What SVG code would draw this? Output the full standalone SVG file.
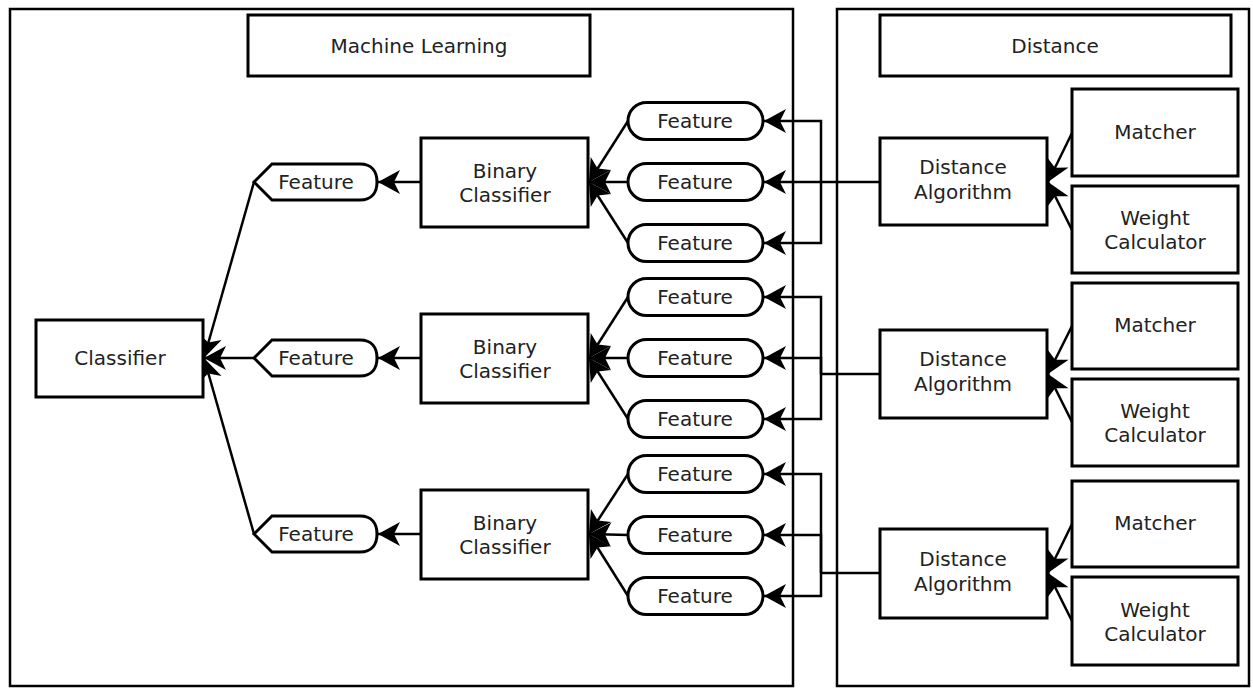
<svg xmlns="http://www.w3.org/2000/svg" width="1253" height="688" viewBox="0 0 1253 688">
<style>
.frame{fill:#fff;stroke:#000;stroke-width:2.5}
.box{fill:#fff;stroke:#000;stroke-width:3}
.t{font-family:"DejaVu Sans",sans-serif;font-size:20px;fill:#222;text-anchor:middle}
.c{fill:none;stroke:#000;stroke-width:2.5}
.a{marker-end:url(#arr)}
</style>
<defs>
<marker id="arr" markerUnits="userSpaceOnUse" markerWidth="28" markerHeight="28" viewBox="-24 -14 28 28" refX="0" refY="0" orient="auto">
<path d="M0,0 L-22,-12 L-16,0 L-22,12 Z" fill="#000"/>
</marker>
</defs>
<rect width="1253" height="688" fill="#fff"/>
<g id="frame-ml"><rect class="frame" x="10" y="9" width="783" height="677"/></g>
<g id="frame-dist"><rect class="frame" x="837" y="9" width="412" height="677"/></g>
<g id="title-ml"><rect class="box" x="248" y="15" width="342" height="61"/><text class="t" x="419" y="53">Machine Learning</text></g>
<g id="title-dist"><rect class="box" x="880" y="15" width="351" height="61"/><text class="t" x="1055" y="53">Distance</text></g>

<g id="connectors">
<path class="c a" d="M254,182 L204,358"/>
<path class="c a" d="M254,358 L204,358"/>
<path class="c a" d="M254,534 L204,358"/>
<path class="c a" d="M421,182 L378,182"/>
<path class="c a" d="M421,358 L378,358"/>
<path class="c a" d="M421,534 L378,534"/>
<path class="c a" d="M628,121 L589,182"/>
<path class="c a" d="M628,182 L589,182"/>
<path class="c a" d="M628,243 L589,182"/>
<path class="c a" d="M628,297 L589,358"/>
<path class="c a" d="M628,358 L589,358"/>
<path class="c a" d="M628,419 L589,358"/>
<path class="c a" d="M628,474 L589,534"/>
<path class="c a" d="M628,535 L589,534"/>
<path class="c a" d="M628,596 L589,534"/>
<path class="c a" d="M880,182 L764,182"/>
<path class="c a" d="M821,182 L821,121 L764,121"/>
<path class="c a" d="M821,182 L821,243 L764,243"/>
<path class="c" d="M880,374 L821,374"/>
<path class="c a" d="M821,374 L821,297 L764,297"/>
<path class="c a" d="M821,374 L821,358 L764,358"/>
<path class="c a" d="M821,374 L821,419 L764,419"/>
<path class="c" d="M880,573 L821,573"/>
<path class="c a" d="M821,573 L821,474 L764,474"/>
<path class="c a" d="M821,573 L821,535 L764,535"/>
<path class="c a" d="M821,573 L821,596 L764,596"/>
<path class="c a" d="M1072,133 L1048,182"/>
<path class="c a" d="M1072,230 L1048,182"/>
<path class="c a" d="M1072,326 L1048,374"/>
<path class="c a" d="M1072,422 L1048,374"/>
<path class="c a" d="M1072,524 L1048,573"/>
<path class="c a" d="M1072,621 L1048,573"/>
</g>

<g id="classifier"><rect class="box" x="36" y="320" width="167" height="77"/><text class="t" x="120" y="365">Classifier</text></g>

<g id="hex-1"><path class="box" d="M254,182 L272,164 L360,164 C372,164 377,172 377,182 C377,192 372,200 360,200 L272,200 Z"/><text class="t" x="316" y="189">Feature</text></g>
<g id="hex-2"><path class="box" d="M254,358 L272,340 L360,340 C372,340 377,348 377,358 C377,368 372,376 360,376 L272,376 Z"/><text class="t" x="316" y="365">Feature</text></g>
<g id="hex-3"><path class="box" d="M254,534 L272,516 L360,516 C372,516 377,524 377,534 C377,544 372,552 360,552 L272,552 Z"/><text class="t" x="316" y="541">Feature</text></g>

<g id="bc-1"><rect class="box" x="421" y="138" width="167" height="89"/><text class="t" x="505" y="178">Binary</text><text class="t" x="505" y="202">Classifier</text></g>
<g id="bc-2"><rect class="box" x="421" y="314" width="167" height="89"/><text class="t" x="505" y="354">Binary</text><text class="t" x="505" y="378">Classifier</text></g>
<g id="bc-3"><rect class="box" x="421" y="490" width="167" height="89"/><text class="t" x="505" y="530">Binary</text><text class="t" x="505" y="554">Classifier</text></g>

<g id="f-1"><rect class="box" x="628" y="102.5" width="135" height="37" rx="18.5"/><text class="t" x="695" y="128">Feature</text></g>
<g id="f-2"><rect class="box" x="628" y="163.5" width="135" height="37" rx="18.5"/><text class="t" x="695" y="189">Feature</text></g>
<g id="f-3"><rect class="box" x="628" y="224.5" width="135" height="37" rx="18.5"/><text class="t" x="695" y="250">Feature</text></g>
<g id="f-4"><rect class="box" x="628" y="278.5" width="135" height="37" rx="18.5"/><text class="t" x="695" y="304">Feature</text></g>
<g id="f-5"><rect class="box" x="628" y="339.5" width="135" height="37" rx="18.5"/><text class="t" x="695" y="365">Feature</text></g>
<g id="f-6"><rect class="box" x="628" y="400.5" width="135" height="37" rx="18.5"/><text class="t" x="695" y="426">Feature</text></g>
<g id="f-7"><rect class="box" x="628" y="455.5" width="135" height="37" rx="18.5"/><text class="t" x="695" y="481">Feature</text></g>
<g id="f-8"><rect class="box" x="628" y="516.5" width="135" height="37" rx="18.5"/><text class="t" x="695" y="542">Feature</text></g>
<g id="f-9"><rect class="box" x="628" y="577.5" width="135" height="37" rx="18.5"/><text class="t" x="695" y="603">Feature</text></g>

<g id="da-1"><rect class="box" x="880" y="138" width="167" height="87"/><text class="t" x="963" y="174">Distance</text><text class="t" x="963" y="199">Algorithm</text></g>
<g id="da-2"><rect class="box" x="880" y="330" width="167" height="88"/><text class="t" x="963" y="366">Distance</text><text class="t" x="963" y="391">Algorithm</text></g>
<g id="da-3"><rect class="box" x="880" y="529" width="167" height="89"/><text class="t" x="963" y="566">Distance</text><text class="t" x="963" y="591">Algorithm</text></g>

<g id="m-1"><rect class="box" x="1072" y="89" width="166" height="87"/><text class="t" x="1155" y="139">Matcher</text></g>
<g id="w-1"><rect class="box" x="1072" y="186" width="166" height="87"/><text class="t" x="1155" y="225">Weight</text><text class="t" x="1155" y="249">Calculator</text></g>
<g id="m-2"><rect class="box" x="1072" y="283" width="166" height="86"/><text class="t" x="1155" y="332">Matcher</text></g>
<g id="w-2"><rect class="box" x="1072" y="379" width="166" height="87"/><text class="t" x="1155" y="418">Weight</text><text class="t" x="1155" y="442">Calculator</text></g>
<g id="m-3"><rect class="box" x="1072" y="481" width="166" height="86"/><text class="t" x="1155" y="530">Matcher</text></g>
<g id="w-3"><rect class="box" x="1072" y="577" width="166" height="88"/><text class="t" x="1155" y="617">Weight</text><text class="t" x="1155" y="641">Calculator</text></g>
</svg>
